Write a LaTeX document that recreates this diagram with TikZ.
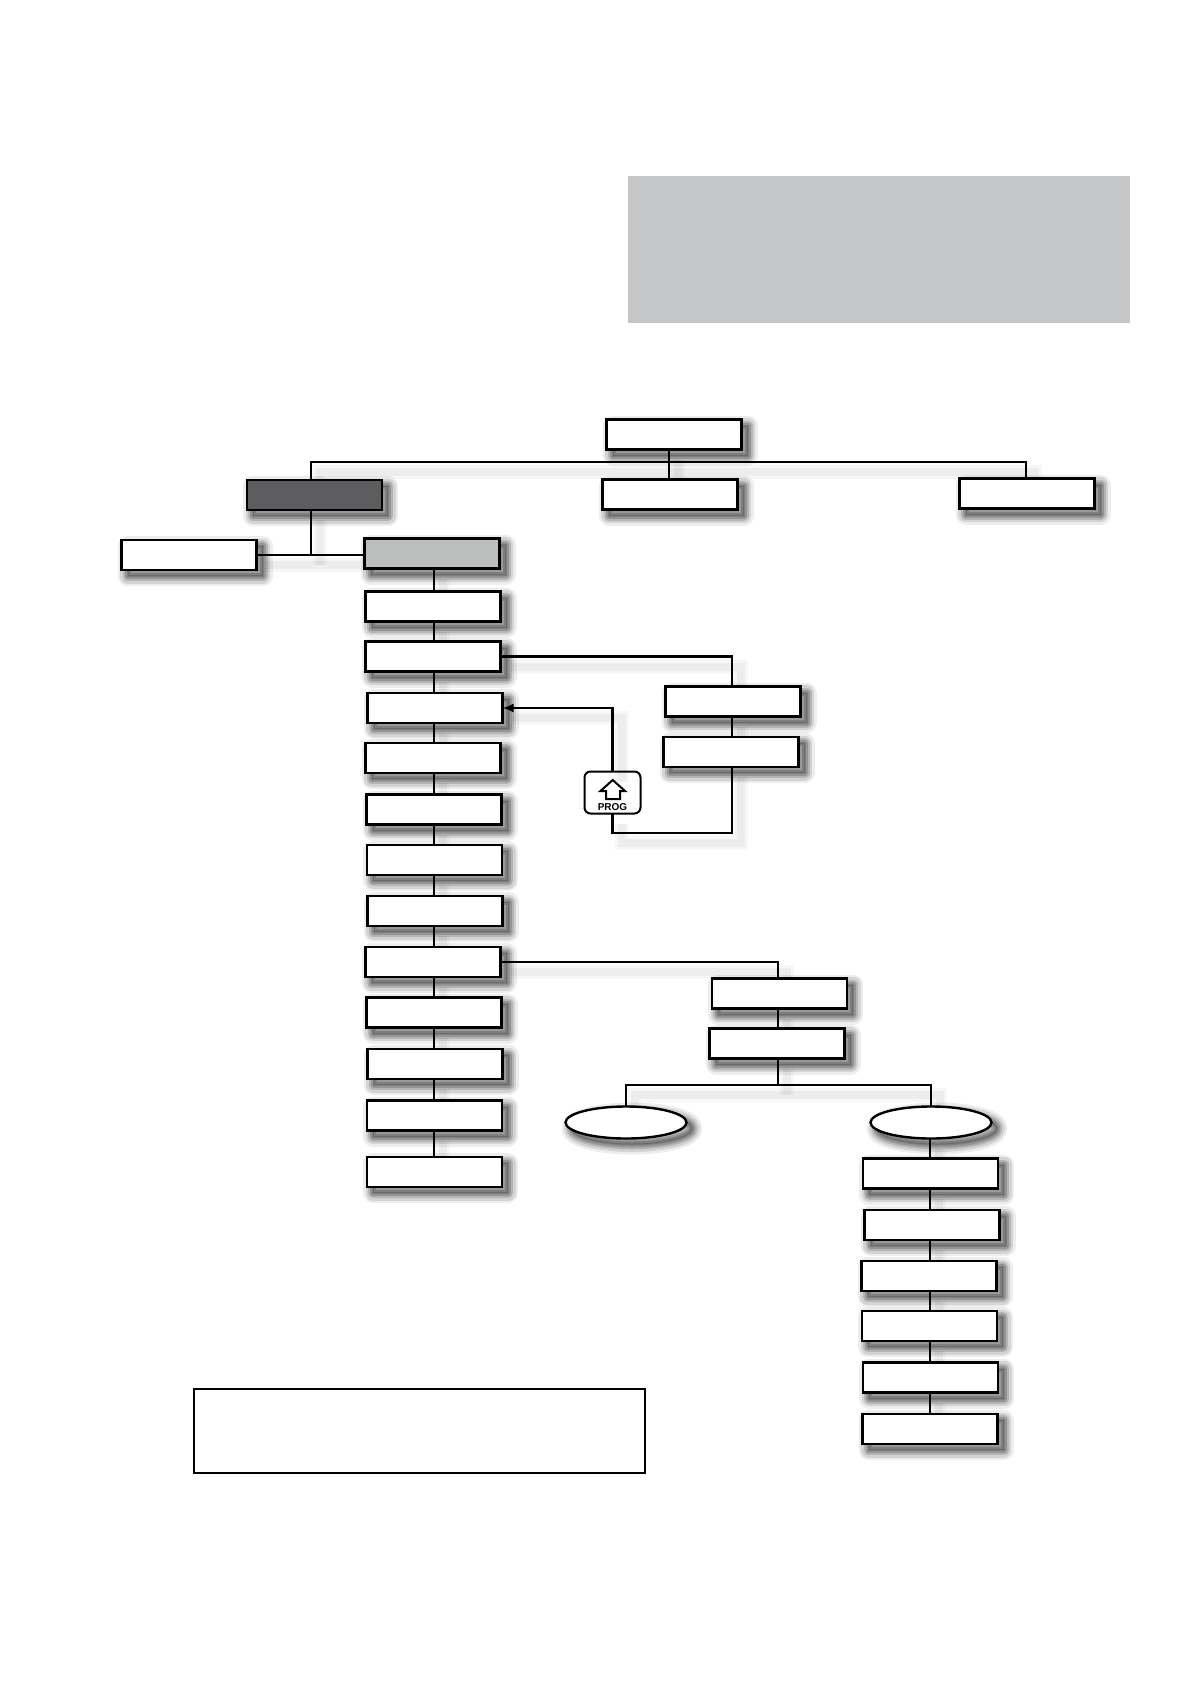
\documentclass[tikz,border=0pt]{standalone}
\usepackage{xcolor}
\usepackage{fontspec}
\setmainfont{Liberation Sans}
\usepackage{tikz}
\usetikzlibrary{arrows.meta,positioning,backgrounds,shapes.geometric}
\definecolor{ink}{HTML}{000000}
\definecolor{panelgray}{HTML}{C4C6C8}
\definecolor{darkfill}{HTML}{5D5D5F}
\definecolor{lightfill}{HTML}{BCBDBD}
\begin{document}
\begin{tikzpicture}[x=1pt,y=-1pt,softshadow/.style={preaction={draw=black,opacity=.07,line width=20pt,line join=round,transform canvas={shift={(6pt,-6pt)}}},preaction={draw=black,opacity=.11,line width=15pt,line join=round,transform canvas={shift={(6pt,-6pt)}}},preaction={draw=black,opacity=.15,line width=10pt,line join=round,transform canvas={shift={(6pt,-6pt)}}},preaction={draw=black,opacity=.18,line width=6pt,line join=round,transform canvas={shift={(6pt,-6pt)}}},preaction={draw=black,fill=black,opacity=.15,line width=2pt,transform canvas={shift={(6pt,-6pt)}}}},box/.style={softshadow,draw=ink,fill=white,line width=2.6pt,outer sep=0pt,inner sep=0pt,minimum width=135pt,minimum height=30pt},oval/.style={softshadow,ellipse,draw=ink,fill=white,line width=2.4pt,outer sep=0pt,inner sep=0pt,minimum width=121pt,minimum height=32pt},link/.style={draw=ink,line width=2.2pt,preaction={-,draw=black,opacity=.03,line width=14pt,transform canvas={shift={(9pt,-10pt)}}},preaction={-,draw=black,opacity=.04,line width=8pt,transform canvas={shift={(9pt,-10pt)}}}}]
\useasboundingbox (0,0) rectangle (1191,1684);
\node[fill=panelgray,minimum width=502pt,minimum height=147pt,inner sep=0pt] (panel) at (879,249) {};
\node[draw=ink,fill=white,line width=2pt,minimum width=451pt,minimum height=84pt,inner sep=0pt] (note) at (419.5,1430.5) {};
\node[box] (top) at (674,434.5) {};
\node[box,fill=darkfill] (dark) at (314.5,495) {};
\node[box] (mid) at (670,494.5) {};
\node[box] (right) at (1027,493.5) {};
\node[box] (left) at (189,555) {};
\node[box,fill=lightfill] (light) at (432,553.5) {};
\node[box,below=23pt of light,xshift=1pt] (c1) {};
\node[box,below=20pt of c1] (c2) {};
\node[box,below=21.5pt of c2,xshift=2pt] (c3) {};
\node[box,below=20pt of c3,xshift=-2pt] (c4) {};
\node[box,below=21.5pt of c4,xshift=1pt] (c5) {};
\node[box,below=20.5pt of c5,xshift=.5pt] (c6) {};
\node[box,below=21pt of c6,xshift=.5pt] (c7) {};
\node[box,below=21pt of c7,xshift=-2pt] (c8) {};
\node[box,below=20.5pt of c8,xshift=1pt] (c9) {};
\node[box,below=21.5pt of c9,xshift=1pt] (c10) {};
\node[box,below=21.5pt of c10,xshift=-.5pt] (c11) {};
\node[box,below=26.5pt of c11] (c12) {};
\node[box] (s1) at (733,701.5) {};
\node[box,below=20.5pt of s1,xshift=-2pt] (s2) {};
\node[draw=ink,fill=white,rounded corners=6pt,line width=2pt,minimum width=56pt,minimum height=42pt,inner sep=0pt,outer sep=0pt] (prog) at (612.5,792.5) {};
\node[font=\bfseries\fontsize{10}{12}\selectfont,inner sep=0pt] (progtext) at (612.5,807.5) {PROG};
\draw[ink,line width=2pt,line join=miter] (612.7,780) -- (625,791) -- (620,791) -- (620,799) -- (606,799) -- (606,791) -- (600.5,791) -- cycle;
\node[box] (t1) at (779.5,993.5) {};
\node[box,below=20pt of t1,xshift=-2.5pt] (t2) {};
\node[oval] (e1) at (626,1122.5) {};
\node[oval] (e2) at (931,1122.5) {};
\node[box] (r1) at (930.5,1173.5) {};
\node[box,below=21.5pt of r1,xshift=1.5pt] (r2) {};
\node[box,below=21pt of r2,xshift=-3pt] (r3) {};
\node[box,below=20pt of r3,xshift=.5pt] (r4) {};
\node[box,below=21.5pt of r4,xshift=1pt] (r5) {};
\node[box,below=21.5pt of r5,xshift=-.5pt] (r6) {};
\coordinate (busl) at (311,462);
\coordinate (busm) at (669,462);
\coordinate (busr) at (1026,462);
\coordinate (ebus) at (778,1085);
\coordinate (progturn) at (612.5,833);
\coordinate (spine) at (434,600);
\coordinate (rspine) at (930,1200);
\coordinate (sspine) at (732,700);
\begin{scope}[on background layer]
\draw[link] (dark.north -| busl) -- (busl) -- (busr) -- (right.north -| busr);
\draw[link] (busm |- top.south) -- (busm |- mid.north);
\draw[link] (dark.south -| busl) -- (busl |- left.east);
\draw[link] (left.east) -- (left.east -| light.west);
\foreach \a/\b in {light/c1,c1/c2,c2/c3,c3/c4,c4/c5,c5/c6,c6/c7,c7/c8,c8/c9,c9/c10,c10/c11,c11/c12} \draw[link] (spine |- \a.south) -- (spine |- \b.north);
\foreach \a/\b in {e2/r1,r1/r2,r2/r3,r3/r4,r4/r5,r5/r6} \draw[link] (rspine |- \a.south) -- (rspine |- \b.north);
\draw[link] (sspine |- s1.south) -- (sspine |- s2.north);
\draw[link] (ebus |- t1.south) -- (ebus |- t2.north);
\draw[link] (c2.east) -| (sspine |- s1.north);
\draw[link] (prog.south) -- (progturn) -| (sspine |- s2.south);
\draw[link] (c8.east) -| (ebus |- t1.north);
\draw[link] (ebus |- t2.south) -- (ebus);
\draw[link] (e1.north) |- (ebus) -| (e2.north);
\end{scope}
\draw[link,-{Latex[length=11pt,width=9pt]}] (prog.north) |- (c3.east);
\end{tikzpicture}
\end{document}
